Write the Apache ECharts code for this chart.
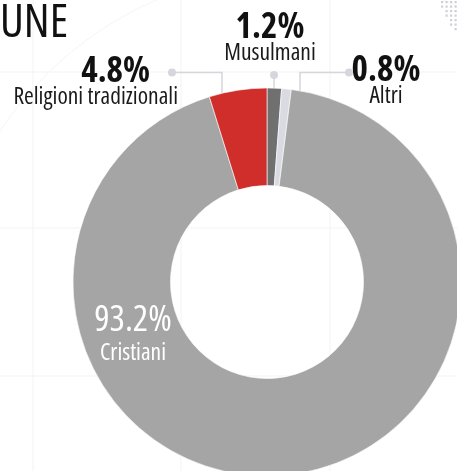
<!DOCTYPE html>
<html>
<head>
<meta charset="utf-8">
<script src="https://cdn.jsdelivr.net/npm/echarts@6/dist/echarts.min.js"></script>
<style>
html,body{margin:0;padding:0;background:#fff;}
#chart{width:457px;height:471px;}
</style>
</head>
<body>
<div id="chart"></div>
<script>
const categories = ['Musulmani', 'Altri', 'Cristiani', 'Religioni tradizionali'];
const values = [1.2, 0.8, 93.2, 4.8];
const colors = ['#707070', '#dadae2', '#a5a5a5', '#cf2e2a'];
const titleText = 'UNE';

const FONT = "'Open Sans', 'Roboto', sans-serif";
const STRETCH = 'condensed';
const LINE = '#d6d6dc';

// label layout (positions only)
const labelPos = [
  {x: 270, y: 15, align: 'center', line: [[274, 89], [274, 75]]},
  {x: 386, y: 58, align: 'center', line: [[300, 91], [300, 72.5], [349, 72.5]]},
  {x: 133, y: 306, align: 'center', line: null},
  {x: 178, y: 59, align: 'right', line: [[222, 94], [222, 72.5], [172, 72.5]]}
];
const dots = [[274, 75], [349, 72.5], [172, 72.5]];

const chart = echarts.init(document.getElementById('chart'), null, {renderer: 'canvas'});

const graphics = [];
[33, 181, 330].forEach(x => graphics.push({type: 'line', silent: true, z: -10,
  shape: {x1: x, y1: 0, x2: x, y2: 471}, style: {stroke: '#f3f3f5', lineWidth: 1}}));
[72, 228, 376].forEach(y => graphics.push({type: 'line', silent: true, z: -10,
  shape: {x1: 0, y1: y, x2: 457, y2: y}, style: {stroke: '#f3f3f5', lineWidth: 1}}));
// faint decorative arcs
graphics.push({type: 'circle', silent: true, z: -10, shape: {cx: 300, cy: 330, r: 360},
  style: {fill: 'none', stroke: '#f5f5f7', lineWidth: 1}});
// decorative dot pattern top-right
const dotRows = [[442, 446.5, 451, 455.5], [442, 446.5, 451, 455.5], [446.5, 451, 455.5], [446.5, 451, 455.5], [451, 455.5], [451, 455.5], [455.5]];
dotRows.forEach((row, r) => row.forEach(x => graphics.push({type: 'rect', silent: true, z: -5,
  shape: {x: x - 1, y: 1 + r * 4.5, width: 2.2, height: 2.2}, style: {fill: '#cfcfd6'}})));
dots.forEach(d => graphics.push({type: 'circle', silent: true, z: 10,
  shape: {cx: d[0], cy: d[1], r: 4}, style: {fill: LINE}}));

const data = categories.map((name, i) => ({
  name: name,
  value: values[i],
  itemStyle: {color: colors[i]},
  labelLine: {show: labelPos[i].line !== null}
}));

chart.setOption({
  animation: false,
  backgroundColor: '#ffffff',
  title: {
    text: titleText,
    left: 0,
    top: 1,
    padding: 0,
    textStyle: {fontFamily: FONT, fontStyle: STRETCH, fontSize: 46, fontWeight: 'normal', color: '#111111'}
  },
  graphic: graphics,
  series: [{
    type: 'pie',
    center: [267, 282],
    radius: [96.5, 194],
    startAngle: 90,
    clockwise: true,
    avoidLabelOverlap: false,
    data: data,
    itemStyle: {borderColor: '#ffffff', borderWidth: 0.6},
    emphasis: {disabled: true},
    label: {
      show: true,
      position: 'outside',
      formatter: p => {
        const v = p.value.toFixed(1) + '%';
        if (p.dataIndex === 2) return '{pw|' + v + '}\n{nw|' + p.name + '}';
        if (p.dataIndex === 3) return '{pr|' + v + '}\n{n|' + p.name + '}';
        return '{p|' + v + '}\n{n|' + p.name + '}';
      },
      rich: {
        p: {fontFamily: FONT, fontStyle: STRETCH, fontSize: 35, fontWeight: 'bold', color: '#111111', lineHeight: 26},
        pr: {fontFamily: FONT, fontStyle: STRETCH, fontSize: 35, fontWeight: 'bold', color: '#111111', lineHeight: 26, padding: [0, 28, 0, 0]},
        n: {fontFamily: FONT, fontStyle: STRETCH, fontSize: 23.5, color: '#1a1a1a', lineHeight: 24},
        pw: {fontFamily: FONT, fontStyle: STRETCH, fontSize: 36, color: '#ffffff', lineHeight: 30},
        nw: {fontFamily: FONT, fontStyle: STRETCH, fontSize: 23.5, color: '#ffffff', lineHeight: 34}
      }
    },
    labelLine: {lineStyle: {color: LINE, width: 1.5}},
    labelLayout: params => {
      const lp = labelPos[params.dataIndex];
      const o = {x: lp.x, y: lp.y, align: lp.align, verticalAlign: 'top'};
      if (lp.line) o.labelLinePoints = lp.line;
      return o;
    }
  }]
});
</script>
</body>
</html>
